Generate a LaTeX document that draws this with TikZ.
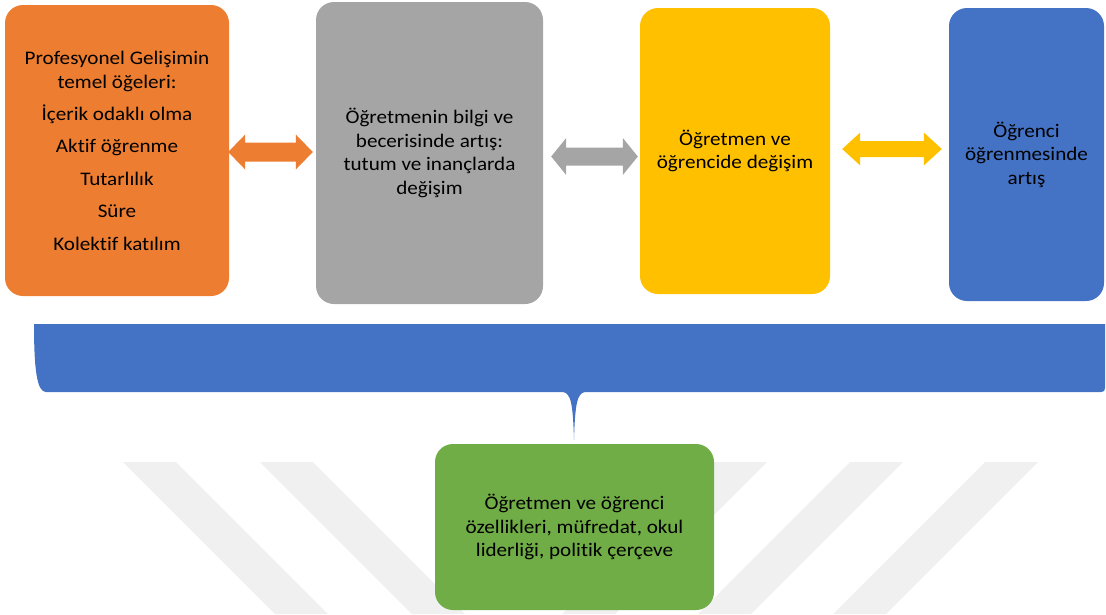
\documentclass[tikz,border=0pt]{standalone}
\usepackage{fontspec}
\setmainfont{Carlito}[FakeStretch=1.1,Ligatures=NoCommon]
\usetikzlibrary{calc}
\definecolor{cOrange}{HTML}{ED7D31}
\definecolor{cGray}{HTML}{A5A5A5}
\definecolor{cYellow}{HTML}{FFC000}
\definecolor{cBlue}{HTML}{4472C4}
\definecolor{cGreen}{HTML}{70AD47}
\definecolor{cWater}{HTML}{F0F0F0}
% #1 colour, #2 left tip, #3 right tip, #4 head length, #5 head half-height, #6 shaft half-height
\newcommand\dblarrow[6]{%
  \fill[#1] let \p1=#2, \p2=#3 in
    (\x1,\y1) -- (\x1+#4,\y1+#5) -- (\x1+#4,\y1+#6) -- (\x2-#4,\y1+#6)
    -- (\x2-#4,\y1+#5) -- (\x2,\y1) -- (\x2-#4,\y1-#5) -- (\x2-#4,\y1-#6)
    -- (\x1+#4,\y1-#6) -- (\x1+#4,\y1-#5) -- cycle;}
\begin{document}
\begin{tikzpicture}[x=1pt,y=-1pt,
  box/.style n args={2}{rectangle, rounded corners=18pt, inner sep=0pt,
    minimum width=#1, minimum height=#2, align=center,
    font=\fontsize{19.2}{23.5}\selectfont, text=black},
  wm/.style={fill=cWater}]
\useasboundingbox (0,0) rectangle (1106,614);
% watermark
\fill[wm] (123,462) -- (176,462) -- (328,614) -- (275,614) -- cycle;
\fill[wm] (260,462) -- (313,462) -- (465,614) -- (412,614) -- cycle;
\fill[wm] (714,462) -- (767,462) -- (615,614) -- (562,614) -- cycle;
\fill[wm] (850,462) -- (903,462) -- (751,614) -- (698,614) -- cycle;
\fill[wm] (985,462) -- (1038,462) -- (886,614) -- (833,614) -- cycle;
% boxes
\node[box={224pt}{291pt}, fill=cOrange, font=\fontsize{19.2}{24}\selectfont] (po) at (117,150.5)
  {Profesyonel Gelişimin\\temel öğeleri:\\[8pt]İçerik odaklı olma\\[8.5pt]Aktif öğrenme\\[8.5pt]Tutarlılık\\[8.5pt]Süre\\[8.5pt]Kolektif katılım};
\node[box={227pt}{302pt}, fill=cGray] (pg) at (429.5,153)
  {Öğretmenin bilgi ve\\becerisinde artış:\\tutum ve inançlarda\\değişim};
\node[box={190pt}{286pt}, fill=cYellow] (py) at (735,151)
  {Öğretmen ve\\öğrencide değişim};
\node[box={155pt}{293pt}, fill=cBlue] (pb) at (1026.5,154.5)
  {Öğrenci\\öğrenmesinde\\artış};
\node[box={279pt}{166pt}, fill=cGreen] (pgr) at (574.5,527)
  {Öğretmen ve öğrenci\\özellikleri, müfredat, okul\\liderliği, politik çerçeve};
% double arrows
\coordinate (ya) at (0,152);
\coordinate (yb) at (0,156.5);
\coordinate (yc) at (0,149);
\dblarrow{cOrange}{($(po.east|-ya)+(-1,0)$)}{($(pg.west|-ya)+(-3,0)$)}{17}{17.5}{9.5}
\dblarrow{cGray}{($(pg.east|-yb)+(8,0)$)}{($(py.west|-yb)+(-2,0)$)}{15}{18.5}{9}
\dblarrow{cYellow}{($(py.east|-yc)+(12,0)$)}{($(pb.west|-yc)+(-7,0)$)}{18}{16.5}{8}
% brace
\fill[cBlue] (34,324) -- (1105,324) -- (1105,388) .. controls (1105,391) and (1104,392) .. (1101,392)
  -- (585,392) .. controls (577,393) and (575,405) .. (574,440)
  .. controls (573,405) and (571,393) .. (563,392)
  -- (46,392) .. controls (37,392) and (34,370) .. cycle;
\end{tikzpicture}
\end{document}
